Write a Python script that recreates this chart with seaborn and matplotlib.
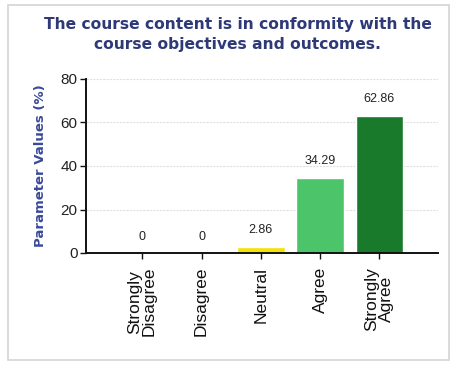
import matplotlib
matplotlib.use("Agg")
import matplotlib.pyplot as plt
import seaborn as sns
import pandas as pd
from matplotlib.patches import Rectangle

categories = ["Strongly\nDisagree", "Disagree", "Neutral", "Agree", "Strongly\nAgree"]
values = [0, 0, 2.86, 34.29, 62.86]
value_labels = ["0", "0", "2.86", "34.29", "62.86"]
bar_colors = ["#8a8a8a", "#8a8a8a", "#f2e205", "#4cc46a", "#1a7a2c"]
y_ticks = [0, 20, 40, 60, 80]

sns.set_theme(style="white")
plt.rcParams["font.family"] = ["Liberation Sans", "DejaVu Sans"]

fig = plt.figure(figsize=(4.57, 3.69), dpi=100)
fig.patch.set_facecolor("white")
# light frame round the whole chart
fig.patches.append(Rectangle((8 / 457, 9 / 369), 441 / 457, 355 / 369,
                             transform=fig.transFigure, fill=False,
                             edgecolor="#d4d4d4", linewidth=1.2))

ax = fig.add_axes([86 / 457, 1 - 253 / 369, 352 / 457, 174 / 369])
df = pd.DataFrame({"category": categories, "value": values})
sns.barplot(data=df, x="category", y="value", hue="category",
            palette=bar_colors, legend=False, width=0.8, saturation=1, ax=ax)

ax.set_xlim(-0.95, 4.99)
ax.set_ylim(0, 80)
ax.set_yticks(y_ticks)
ax.set_yticklabels([str(t) for t in y_ticks], fontsize=11, color="#222222")
ax.set_xticks(range(len(categories)))
ax.set_xticklabels(categories, rotation=90, fontsize=12.5, linespacing=0.95,
                   color="#111111")
for lbl in ax.get_xticklabels():
    lbl.set_verticalalignment("top")
    lbl.set_horizontalalignment("center")

for y in y_ticks[1:]:
    ax.axhline(y, color="#e0e0e0", linewidth=0.8, linestyle=(0, (2, 1)), zorder=0)

for side in ["top", "right"]:
    ax.spines[side].set_visible(False)
for side in ["left", "bottom"]:
    ax.spines[side].set_color("#111111")
    ax.spines[side].set_linewidth(1.4)
ax.tick_params(axis="both", which="both", direction="out", length=4, width=1,
               color="#111111", left=True, bottom=True, pad=2)
ax.tick_params(axis="x", pad=6)

ax.set_xlabel("")
ax.set_ylabel("Parameter Values (%)", fontsize=9.5, fontweight="bold",
              color="#3a4a9a", family="DejaVu Sans", labelpad=10)

for i, (v, t) in enumerate(zip(values, value_labels)):
    ax.annotate(t, (i, v), xytext=(0, 8 if v > 0 else 7), textcoords="offset points",
                ha="center", va="bottom", fontsize=9, color="#222222")

title_x = 238 / 457
fig.text(title_x, 1 - 25 / 369, "The course content is in conformity with the",
         ha="center", va="center", fontsize=11.2, fontweight="bold",
         color="#2e3a78", family="DejaVu Sans")
fig.text(title_x, 1 - 44 / 369, "course objectives and outcomes.",
         ha="center", va="center", fontsize=11.2, fontweight="bold",
         color="#2e3a78", family="DejaVu Sans")

fig.savefig("out.png", dpi=100)
